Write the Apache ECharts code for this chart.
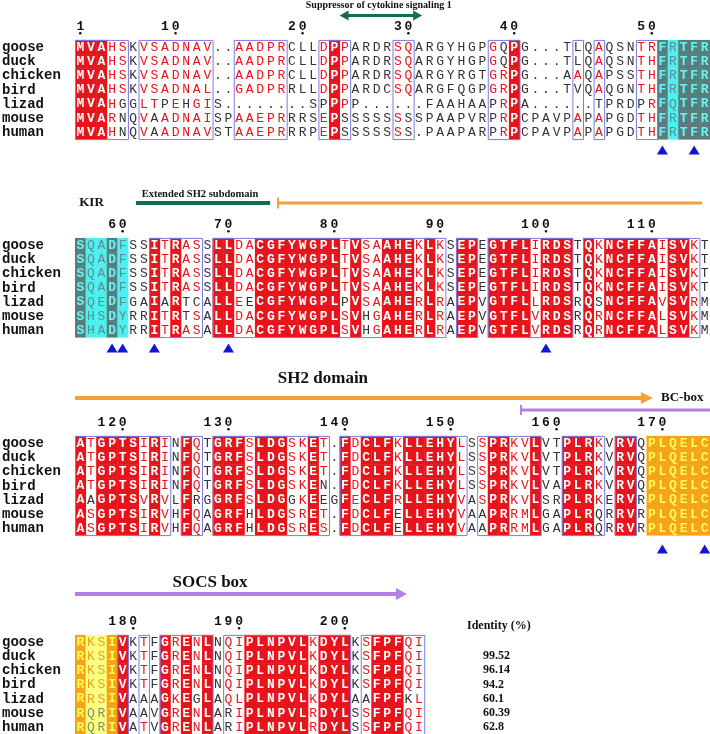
<!DOCTYPE html>
<html><head><meta charset="utf-8">
<script src="https://cdn.jsdelivr.net/npm/echarts@6/dist/echarts.min.js"></script>
<style>html,body{margin:0;padding:0;background:#fff}#c{width:710px;height:734px}</style>
</head><body><div id="c"></div>
<script>
// ---------------- DATA ----------------
const names = ['goose','duck','chicken','bird','lizad','mouse','human'];

const block1Seqs = [
 'MVAHSKVSADNAV..AADPRCLLDPPARDRSQARGYHGPGQPG...TLQAQSNTRFRTFR',
 'MVAHSKVSADNAV..AADPRCLLDPPARDRSQARGYHGPGQPG...TLQAQSNTHFRTFR',
 'MVAHSKVSADNAV..AADPRCLLDPPARDRSQARGYRGTGRPG...AAQAPSSTHFRTFR',
 'MVAHSKVSADNAL..GADPRRLLDPPARDCSQARGFQGPGRPG...TVQAQGNTHFRTFR',
 'MVAHGGLTPEHGIS........SPPPP......FAAHAAPRPA......TPRDPRFQTFR',
 'MVARNQVAADNAISPAAEPRRRSEPSSSSSSSSPAAPVRPRPCPAVPAPAPGDTHFRTFR',
 'MVAHNQVAADNAVSTAAEPRRRPEPSSSSSSS.PAAPARPRPCPAVPAPAPGDTHFRTFR'
];
// R = strictly conserved, r = similar (framed), . = none, g/c = KIR highlight, o/y = box highlight
const block1Class = 'RRRrr.rrrrrrr..rrrrr...rRr....rr.......rrR.....r.r...rrgcggg';
const block1Start = 1;
const block1Marks = [56, 59];

const block2Seqs = [
 'SQADFSSITRASSLLDACGFYWGPLTVSAAHEKLKSEPEGTFLIRDSTQKNCFFAISVKT',
 'SQADFSSITRASSLLDACGFYWGPLTVSAAHEKLKSEPEGTFLIRDSTQKNCFFAISVKT',
 'SQADFSSITRASSLLDACGFYWGPLTVSAAHEKLKSEPEGTFLIRDSTQKNCFFAISVKT',
 'SQADFSSITRASSLLDACGFYWGPLTVSAAHEKLKSEPEGTFLIRDSTQKNCFFAISVKT',
 'SQEDFGAIARTCALLEECGFYWGPLPVSAAHERLRAEPVGTFLLRDSRQSNCFFAVSVRM',
 'SHSDYRRITRTSALLDACGFYWGPLSVHGAHERLRAEPVGTFLVRDSRQRNCFFALSVKM',
 'SHADYRRITRASALLDACGFYWGPLSVHGAHERLRAEPVGTFLVRDSRQRNCFFALSVKM'
];
const block2Class = 'gccgc..RrRrr.RRrrRRRRRRRRrRrrRRRrRr.RR.RRRRrRRR.RrRRRRRrRRr.';
const block2Start = 56;
const block2Marks = [4, 5, 8, 15, 45];

const block3Seqs = [
 'ATGPTSIRINFQTGRFSLDGSKET.FDCLFKLLEHYLSSPRKVLVTPLRKVRVQPLQELC',
 'ATGPTSIRINFQTGRFSLDGSKET.FDCLFKLLEHYLSSPRKVLVTPLRKVRVQPLQELC',
 'ATGPTSIRINFQTGRFSLDGSKET.FDCLFKLLEHYLSSPRKVLVTPLRKVRVQPLQELC',
 'ATGPTSIRINFQTGRFSLDGSKEN.FDCLFKLLEHYLSSPRKVLVAPLRKVRVQPLQELC',
 'AAGPTSVRVLFRGGRFSLDGGKEEGFECLFRLLEHYVASPRKVLSRPLRKERVRPLQELC',
 'ASGPTSIRVHFQAGRFHLDGSRET.FDCLFELLEHYVAAPRRMLGAPLRQRRVRPLQELC',
 'ASGPTSIRVHFQAGRFHLDGSRES.FDCLFELLEHYVAAPRRMLGAPLRQRRVRPLQELC'
];
const block3Class = 'RrRRRRrRr.Rr.RRRrRRRrrRr.RrRRRrRRRRRr.rRRrrR..RRRr.RR.oooooo';
const block3Start = 116;
const block3Marks = [56, 60];

const block4Seqs = [
 'RKSIVKTFGRENLNQIPLNPVLKDYLKSFPFQI',
 'RKSIVKTFGRENLNQIPLNPVLKDYLKSFPFQI',
 'RKSIVKTFGRENLNQIPLNPVLKDYLKSFPFQI',
 'RKSIVKTFGRENLNQIPLNPVLKDYLKSFPFQI',
 'RRSIVAAAGKEGLAQLPLNPVLKDYLAAFPFKL',
 'RQRIVAAVGRENLARIPLNPVLRDYLSSFPFQI',
 'RQRIVATVGRENLARIPLNPVLRDYLSSFPFQI'
];
const block4Class = 'oyyoR.r.RrRrR.rrRRRRRRrRRR.rRRRrr';
const block4Start = 175;
const block4Marks = [];

const identityLabel = 'Identity (%)';
const identity = [null, 99.52, 96.14, 94.2, 60.1, 60.39, 62.8];

// ---------------- STYLE / LAYOUT ----------------
const SERIF = '"Liberation Serif","Times New Roman",serif';
const MONO = '"Liberation Mono","Courier New",monospace';
const RED = '#e8141c', BLACK = '#333333', FRAME = '#7b7be0';
const GREEN = '#10704a', ORANGE = '#f2a13c', PURPLE = '#b47fe6', BLUE = '#1414d6';
const ROWP = 14.17, LEFT = 75, WIDTH = 635;
const groups = ['ILVM','FYW','KRH','DE','NQ','ST','AG'];
function similar(a,b){ if(a===b) return true; return groups.some(g=>g.includes(a)&&g.includes(b)); }
function consensus(col){ const n={}; col.forEach(c=>{ if(c!=='.') n[c]=(n[c]||0)+1; }); let best=null,bn=-1; for(const k in n){ if(n[k]>bn){bn=n[k];best=k;} } return best; }

const blocks = [
 {seqs:block1Seqs, cls:block1Class, start:block1Start, marks:block1Marks, row0:47, yMin:-3.3, yMax:7.8, markRow:7.27,
  ann:[
   {t:'text', x:28.7, y:-2.96, text:'Suppressor of cytokine signaling 1', font:'bold 10px '+SERIF, align:'center'},
   {t:'arrow', x:25.0, x1:32.8, y:-2.22, color:GREEN, w:3, hl:9, hh:5, both:true}
  ]},
 {seqs:block2Seqs, cls:block2Class, start:block2Start, marks:block2Marks, row0:245, yMin:-4.2, yMax:7.8, markRow:7.27,
  ann:[
   {t:'text', x:1.56, y:-2.96, text:'KIR', font:'bold 13px '+SERIF, align:'center'},
   {t:'text', x:11.81, y:-3.6, text:'Extended SH2 subdomain', font:'bold 10.5px '+SERIF, align:'center'},
   {t:'line', x:5.76, x1:18.43, y:-2.96, color:GREEN, w:4},
   {t:'bracket', x:19.09, x1:59.25, y:-2.96, color:ORANGE, w:3, tick:11}
  ]},
 {seqs:block3Seqs, cls:block3Class, start:block3Start, marks:block3Marks, row0:443, yMin:-5.0, yMax:7.8, markRow:7.48,
  ann:[
   {t:'text', x:23.43, y:-4.52, text:'SH2 domain', font:'bold 17px '+SERIF, align:'center'},
   {t:'arrow', x:0, x1:54.6, y:-3.18, color:ORANGE, w:4, hl:12, hh:6},
   {t:'text', x:55.37, y:-3.18, text:'BC-box', font:'bold 13px '+SERIF, align:'left'},
   {t:'bracket', x:42.05, x1:60, y:-2.33, color:PURPLE, w:3, tick:10}
  ]},
 {seqs:block4Seqs, cls:block4Class, start:block4Start, marks:block4Marks, row0:642, yMin:-4.6, yMax:6.5, markRow:7.3,
  ann:[
   {t:'text', x:12.76, y:-4.16, text:'SOCS box', font:'bold 17px '+SERIF, align:'center'},
   {t:'arrow', x:0, x1:31.37, y:-3.39, color:PURPLE, w:4, hl:11, hh:6},
   {t:'text', x:37.04, y:-1.13, text:identityLabel, font:'bold 12px '+SERIF, align:'left'}
  ].concat(identity.map((v,r)=> v==null?null:{t:'text', x:38.55, y:r, text:String(v), font:'bold 12px '+SERIF, align:'left'}).filter(Boolean))
 }
];

function buildItems(b){
  const items=[];
  const ncol=b.cls.length;
  for(let c=1;c<=ncol;c++){
    const col=b.seqs.map(s=>s[c-1]);
    const cons=consensus(col);
    const k=b.cls[c-1];
    col.forEach((ch,r)=>{
      let bg=null, fill=BLACK, bold=false;
      const sim = ch!=='.' && similar(ch,cons);
      if(k==='R'){bg=RED; fill='#fff'; bold=true;}
      else if(k==='r'){fill= sim?RED:BLACK;}
      else if(k==='g'){bg='#5b7c7c'; fill='#66f4f4'; bold=true;}
      else if(k==='c'){bg='#4cf0f0'; fill='#5f8f8f';}
      else if(k==='o'){bg='#f7a21b'; fill='#ffff4d'; bold=true;}
      else if(k==='y'){bg='#ffff80'; fill= sim?'#eba21a':'#7f8f6f';}
      items.push({t:'cell', x:c-0.5, y:r, ch, bg, fill, bold});
    });
  }
  let c=1;
  while(c<=ncol){
    if('rR'.includes(b.cls[c-1])){ let e=c; while(e<ncol && 'rR'.includes(b.cls[e])) e++; items.push({t:'frame', x:c-1, x1:e, y:-0.5, y1:b.seqs.length-0.5}); c=e+1; }
    else c++;
  }
  let res=b.start-1;
  for(let c=1;c<=ncol;c++){
    if(b.seqs[0][c-1]!=='.'){
      res++;
      if(res===1 || res%10===0){
        const s=String(res);
        for(let k=0;k<s.length;k++) items.push({t:'digit', x:c-0.5-(s.length-1-k), y:-1.45, ch:s[k]});
        items.push({t:'dot', x:c-0.5, y:-0.97});
      }
    }
  }
  names.forEach((n,r)=>items.push({t:'name', x:-6.9, y:r, text:n}));
  b.marks.forEach(m=>items.push({t:'tri', x:m-0.5, y:b.markRow}));
  b.ann.forEach(a=>items.push(a));
  return items;
}

function makeRender(items){
  return function(params, api){
    const it=items[params.dataIndex];
    const P=(x,y)=>api.coord([x,y]);
    if(it.t==='cell'){
      const a=P(it.x-0.5,it.y-0.5), b=P(it.x+0.5,it.y+0.5), m=P(it.x,it.y);
      const ch=[];
      if(it.bg) ch.push({type:'rect', shape:{x:a[0], y:Math.min(a[1],b[1]), width:b[0]-a[0]+0.5, height:Math.abs(b[1]-a[1])+0.5}, style:{fill:it.bg}});
      ch.push({type:'text', style:{x:m[0], y:m[1]+0.5, text:it.ch, fill:it.fill, font:(it.bold?'bold ':'')+'13px '+MONO, align:'center', verticalAlign:'middle', textAlign:'center', textVerticalAlign:'middle'}});
      return {type:'group', children:ch};
    }
    if(it.t==='frame'){
      const a=P(it.x,it.y), b=P(it.x1,it.y1);
      return {type:'rect', shape:{x:a[0]+0.5, y:Math.min(a[1],b[1])+0.5, width:b[0]-a[0], height:Math.abs(b[1]-a[1])}, style:{fill:null, stroke:FRAME, lineWidth:1}};
    }
    if(it.t==='digit'){
      const m=P(it.x,it.y);
      return {type:'text', style:{x:m[0], y:m[1], text:it.ch, fill:'#111', font:'bold 13px '+MONO, align:'center', verticalAlign:'middle', textAlign:'center', textVerticalAlign:'middle'}};
    }
    if(it.t==='dot'){
      const m=P(it.x,it.y);
      return {type:'circle', shape:{cx:m[0], cy:m[1], r:1.3}, style:{fill:'#111'}};
    }
    if(it.t==='name'){
      const m=P(it.x,it.y);
      return {type:'text', style:{x:m[0], y:m[1]+0.5, text:it.text, fill:'#111', font:'bold 14px '+MONO, align:'left', verticalAlign:'middle', textAlign:'left', textVerticalAlign:'middle'}};
    }
    if(it.t==='tri'){
      const m=P(it.x,it.y);
      return {type:'polygon', shape:{points:[[m[0],m[1]-4.5],[m[0]-5.5,m[1]+4.5],[m[0]+5.5,m[1]+4.5]]}, style:{fill:BLUE}};
    }
    if(it.t==='text'){
      const m=P(it.x,it.y);
      return {type:'text', style:{x:m[0], y:m[1], text:it.text, fill:'#111', font:it.font, align:it.align, verticalAlign:'middle', textAlign:it.align, textVerticalAlign:'middle'}};
    }
    if(it.t==='line'){
      const a=P(it.x,it.y), b=P(it.x1,it.y);
      return {type:'line', shape:{x1:a[0], y1:a[1], x2:b[0], y2:b[1]}, style:{stroke:it.color, lineWidth:it.w}};
    }
    if(it.t==='bracket'){
      const a=P(it.x,it.y), b=P(it.x1,it.y);
      return {type:'group', children:[
        {type:'line', shape:{x1:a[0], y1:a[1], x2:b[0], y2:b[1]}, style:{stroke:it.color, lineWidth:it.w}},
        {type:'line', shape:{x1:a[0]+1, y1:a[1]-it.tick/2, x2:a[0]+1, y2:a[1]+it.tick/2}, style:{stroke:it.color, lineWidth:2}}
      ]};
    }
    if(it.t==='arrow'){
      const a=P(it.x,it.y), b=P(it.x1,it.y);
      const ch=[];
      const sx = it.both ? a[0]+it.hl-1 : a[0];
      ch.push({type:'line', shape:{x1:sx, y1:a[1], x2:b[0]-it.hl+1, y2:b[1]}, style:{stroke:it.color, lineWidth:it.w}});
      ch.push({type:'polygon', shape:{points:[[b[0],b[1]],[b[0]-it.hl,b[1]-it.hh],[b[0]-it.hl,b[1]+it.hh]]}, style:{fill:it.color}});
      if(it.both) ch.push({type:'polygon', shape:{points:[[a[0],a[1]],[a[0]+it.hl,a[1]-it.hh],[a[0]+it.hl,a[1]+it.hh]]}, style:{fill:it.color}});
      return {type:'group', children:ch};
    }
    return null;
  };
}

const grid=[], xAxis=[], yAxis=[], series=[];
blocks.forEach((b,i)=>{
  grid.push({left:LEFT, width:WIDTH, top:b.row0 + b.yMin*ROWP, height:(b.yMax-b.yMin)*ROWP, containLabel:false});
  xAxis.push({gridIndex:i, type:'value', min:0, max:60, show:false});
  yAxis.push({gridIndex:i, type:'value', min:b.yMin, max:b.yMax, inverse:true, show:false});
  const items=buildItems(b);
  series.push({type:'custom', xAxisIndex:i, yAxisIndex:i, clip:false, silent:true, progressive:0,
    encode:{x:0,y:1}, data:items.map(it=>[it.x,it.y]), renderItem:makeRender(items)});
});

const chart=echarts.init(document.getElementById('c'), null, {renderer:'canvas'});
chart.setOption({animation:false, backgroundColor:'#fff', grid, xAxis, yAxis, series});
</script></body></html>
